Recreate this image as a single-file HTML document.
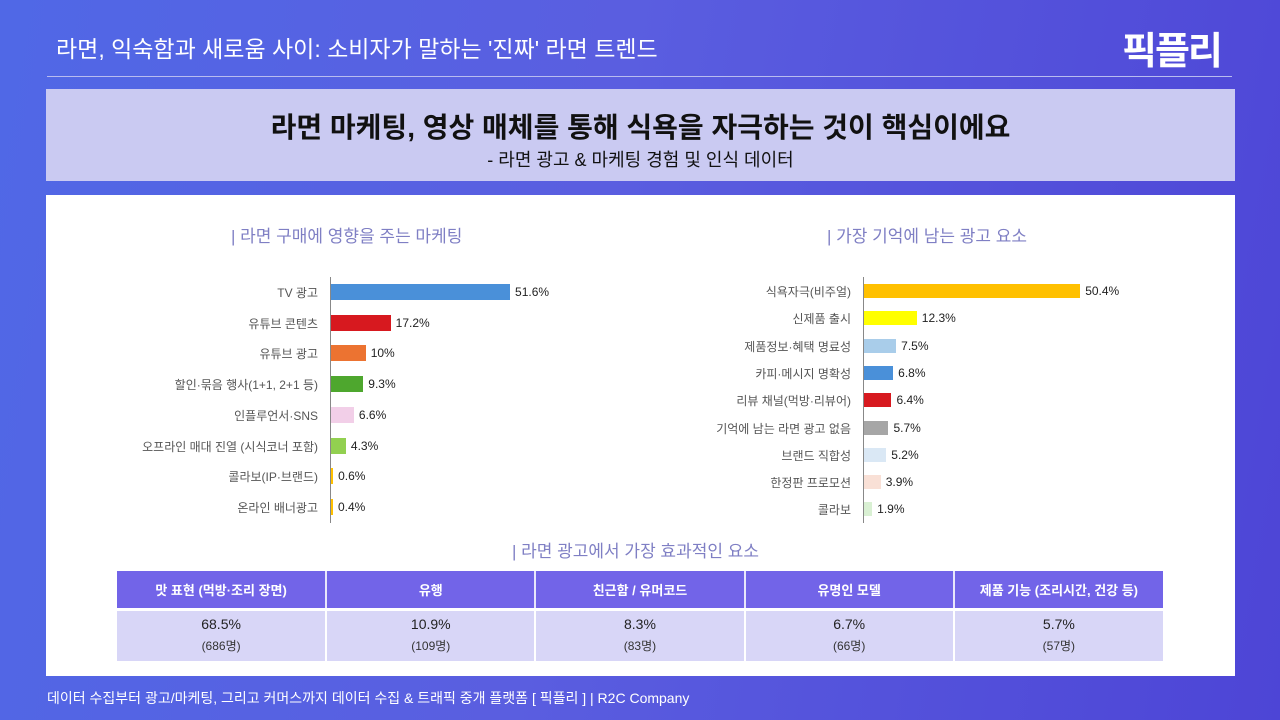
<!DOCTYPE html>
<html><head><meta charset="utf-8"><style>
*{margin:0;padding:0;box-sizing:border-box}
body{width:1280px;height:720px;overflow:hidden;position:relative;font-family:"Liberation Sans","Noto Sans CJK KR",sans-serif;background:linear-gradient(100deg,#5068e6 0%,#5a5ee0 45%,#4d45d6 100%)}
.a{position:absolute;white-space:nowrap}
.lbl{position:absolute;font-size:12px;color:#555;text-align:right;white-space:nowrap}
.bar{position:absolute}
.val{position:absolute;font-size:12px;color:#222;white-space:nowrap}
table{position:absolute;left:117px;top:571px;width:1046px;border-collapse:collapse;table-layout:fixed}
th{background:#7264e8;color:#fff;font-size:13px;height:38px;border-right:2px solid #e8e6fb;font-weight:bold}
td{background:#d8d6f7;text-align:center;height:52px;border-right:2px solid #fff;border-top:3px solid #fff;color:#222;font-size:14px;line-height:21px}
td small{font-size:12px;color:#333}
th:last-child,td:last-child{border-right:none}
</style></head><body>
<div class="a" style="left:56px;top:30px;font-size:23px;color:#fff">라면, 익숙함과 새로움 사이: 소비자가 말하는 '진짜' 라면 트렌드</div>
<div class="a" style="left:1122px;top:20px;font-size:38px;color:#fff;font-weight:bold;letter-spacing:-2px">픽플리</div>
<div class="a" style="left:47px;top:76px;width:1185px;height:1px;background:#b8bcf0"></div>
<div class="a" style="left:46px;top:89px;width:1189px;height:92px;background:#cacaf2"></div>
<div class="a" style="left:46px;top:106px;width:1189px;text-align:center;font-size:28px;font-weight:bold;color:#111">라면 마케팅, 영상 매체를 통해 식욕을 자극하는 것이 핵심이에요</div>
<div class="a" style="left:46px;top:146px;width:1189px;text-align:center;font-size:18px;color:#111">- 라면 광고 &amp; 마케팅 경험 및 인식 데이터</div>
<div class="a" style="left:46px;top:195px;width:1189px;height:481px;background:#fff"></div>
<div class="a" style="left:231px;top:222px;font-size:17px;color:#7f7fc4">| 라면 구매에 영향을 주는 마케팅</div>
<div class="a" style="left:827px;top:222px;font-size:17px;color:#7f7fc4">| 가장 기억에 남는 광고 요소</div>
<div class="a" style="left:330px;top:277px;width:1px;height:246px;background:#888"></div>
<div class="a" style="left:863px;top:277px;width:1px;height:246px;background:#888"></div>
<div id="L"></div><div id="R"></div>
<div class="a" style="left:512px;top:537px;font-size:17px;color:#7f7fc4">| 라면 광고에서 가장 효과적인 요소</div>
<table><tr><th>맛 표현 (먹방·조리 장면)</th><th>유행</th><th>친근함 / 유머코드</th><th>유명인 모델</th><th>제품 기능 (조리시간, 건강 등)</th></tr>
<tr><td>68.5%<br><small>(686명)</small></td><td>10.9%<br><small>(109명)</small></td><td>8.3%<br><small>(83명)</small></td><td>6.7%<br><small>(66명)</small></td><td>5.7%<br><small>(57명)</small></td></tr></table>
<div class="a" style="left:47px;top:688px;font-size:14px;color:#fff">데이터 수집부터 광고/마케팅, 그리고 커머스까지 데이터 수집 &amp; 트래픽 중개 플랫폼 [ 픽플리 ]  |  R2C Company</div>
<script>
function draw(id,ax,y0,dy,h,s,data){var o='';data.forEach(function(d,i){var y=y0+i*dy,w=Math.max(2,d[1]*s);
o+='<div class="lbl" style="right:'+(1280-ax+12)+'px;top:'+(y-8)+'px">'+d[0]+'</div>';
o+='<div class="bar" style="left:'+(ax+1)+'px;top:'+(y-h/2)+'px;width:'+w+'px;height:'+h+'px;background:'+d[2]+'"></div>';
o+='<div class="val" style="left:'+(ax+w+6)+'px;top:'+(y-7)+'px">'+d[3]+'</div>';});
document.getElementById(id).innerHTML=o;}
draw('L',330,292,30.7,16,3.47,[['TV 광고',51.6,'#4a90d9','51.6%'],['유튜브 콘텐츠',17.2,'#d7191f','17.2%'],['유튜브 광고',10,'#ec7331','10%'],['할인·묶음 행사(1+1, 2+1 등)',9.3,'#4ea72e','9.3%'],['인플루언서·SNS',6.6,'#f2cfe8','6.6%'],['오프라인 매대 진열 (시식코너 포함)',4.3,'#92d050','4.3%'],['콜라보(IP·브랜드)',0.6,'#ffc000','0.6%'],['온라인 배너광고',0.4,'#ffc000','0.4%']]);
draw('R',863,291,27.3,14,4.29,[['식욕자극(비주얼)',50.4,'#ffc000','50.4%'],['신제품 출시',12.3,'#ffff00','12.3%'],['제품정보·혜택 명료성',7.5,'#a9cdea','7.5%'],['카피·메시지 명확성',6.8,'#4a90d9','6.8%'],['리뷰 채널(먹방·리뷰어)',6.4,'#d7191f','6.4%'],['기억에 남는 라면 광고 없음',5.7,'#a6a6a6','5.7%'],['브랜드 직합성',5.2,'#dae8f5','5.2%'],['한정판 프로모션',3.9,'#f9e0d6','3.9%'],['콜라보',1.9,'#d9f0d3','1.9%']]);
</script>
</body></html>
